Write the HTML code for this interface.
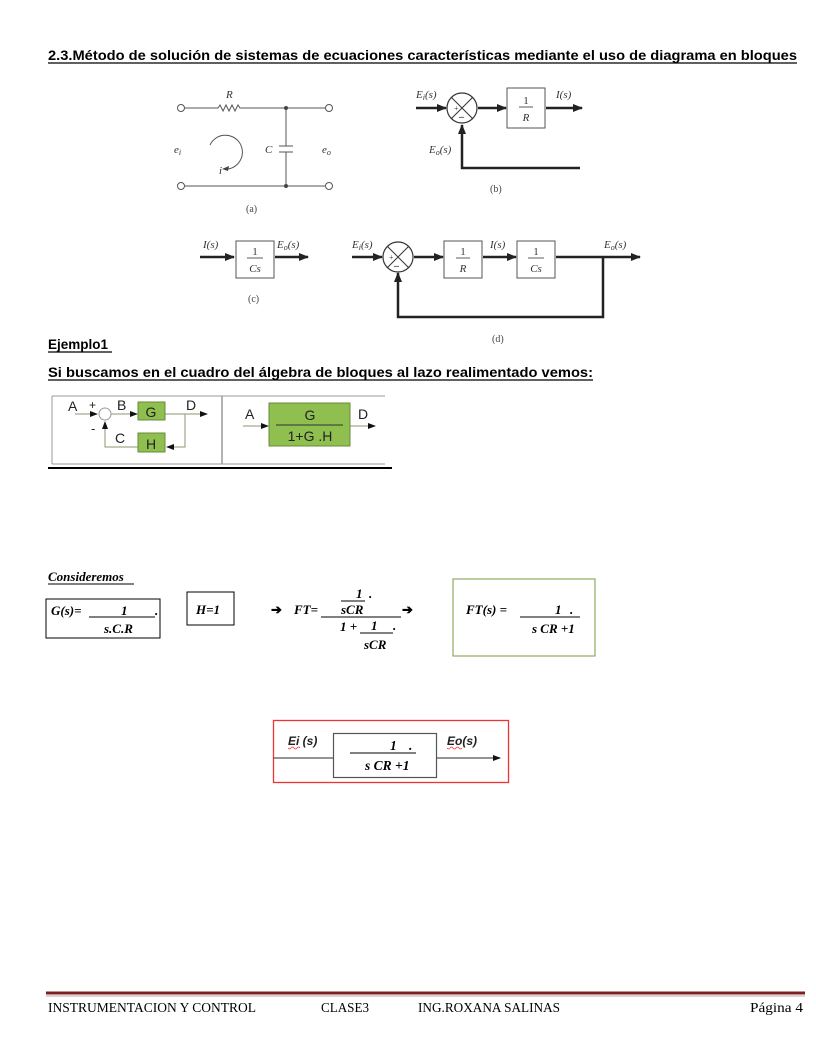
<!DOCTYPE html>
<html><head><meta charset="utf-8"><style>
html,body{margin:0;padding:0;background:#fff}
svg{display:block}
.a{font-family:"Liberation Sans",Arial,sans-serif}
.s{font-family:"Liberation Serif","Times New Roman",serif}
</style></head><body>
<svg width="816" height="1056" viewBox="0 0 816 1056" xmlns="http://www.w3.org/2000/svg">
<defs>
<marker id="ah" markerWidth="10" markerHeight="8" refX="9" refY="4" orient="auto" markerUnits="userSpaceOnUse"><path d="M0,0 L10,4 L0,8 z" fill="#222"/></marker>
<marker id="as" markerWidth="8" markerHeight="6" refX="7" refY="3" orient="auto" markerUnits="userSpaceOnUse"><path d="M0,0 L8,3 L0,6 z" fill="#111"/></marker>
</defs>
<!-- Title -->
<text class="a" x="48" y="60" font-size="13.5" font-weight="bold" textLength="749" lengthAdjust="spacingAndGlyphs">2.3.Método de solución de sistemas de ecuaciones características mediante el uso de diagrama en bloques</text>
<line x1="48" y1="63" x2="797" y2="63" stroke="#000" stroke-width="1.2"/>

<!-- (a) circuit -->
<g stroke="#555" stroke-width="1" fill="none">
<circle cx="181" cy="108" r="3.5" fill="#fff"/>
<circle cx="329" cy="108" r="3.5" fill="#fff"/>
<circle cx="181" cy="186" r="3.5" fill="#fff"/>
<circle cx="329" cy="186" r="3.5" fill="#fff"/>
<path d="M185,108 H218 l2,-3 l3,6 l3,-6 l3,6 l3,-6 l3,6 l3,-6 l2,3 H325"/>
<line x1="185" y1="186" x2="325" y2="186"/>
<line x1="286" y1="108" x2="286" y2="146"/>
<line x1="286" y1="152" x2="286" y2="186"/>
<line x1="279" y1="146" x2="293" y2="146"/>
<line x1="279" y1="152" x2="293" y2="152"/>
<path d="M210,145 A17,17 0 1 1 228,169"/>
</g>
<path d="M222,169 l7,-3 l-1,5 z" fill="#444"/>
<circle cx="286" cy="108" r="2" fill="#444"/>
<circle cx="286" cy="186" r="2" fill="#444"/>
<g class="s" font-style="italic" fill="#333" font-size="11">
<text x="226" y="98">R</text>
<text x="174" y="153">e<tspan font-size="8" dy="2">i</tspan></text>
<text x="265" y="153">C</text>
<text x="322" y="153">e<tspan font-size="8" dy="2">o</tspan></text>
<text x="219" y="174">i</text>
</g>
<text class="s" x="246" y="212" font-size="10" fill="#444">(a)</text>

<!-- (b) -->
<g stroke="#222" stroke-width="2.5" fill="none">
<line x1="416" y1="108" x2="446" y2="108" marker-end="url(#ah)"/>
<line x1="478" y1="108" x2="506" y2="108" marker-end="url(#ah)"/>
<line x1="546" y1="108" x2="582" y2="108" marker-end="url(#ah)"/>
<path d="M580,168 H462 V125" marker-end="url(#ah)"/>
</g>
<circle cx="462" cy="108" r="15" fill="#fff" stroke="#333" stroke-width="1.2"/>
<path d="M451,97 L473,119 M473,97 L451,119" stroke="#333" stroke-width="1"/>
<rect x="507" y="88" width="38" height="40" fill="#fff" stroke="#555"/>
<g class="s" fill="#333">
<text x="526" y="104" font-size="11" text-anchor="middle">1</text>
<line x1="519" y1="107" x2="533" y2="107" stroke="#333" stroke-width="0.8"/>
<text x="526" y="121" font-size="11" font-style="italic" text-anchor="middle">R</text>
<text x="454" y="111" font-size="8">+</text>
<text x="459" y="120" font-size="10" font-weight="bold">–</text>
<text x="416" y="98" font-size="11" font-style="italic">E<tspan font-size="8" dy="2">i</tspan><tspan dy="-2">(s)</tspan></text>
<text x="556" y="98" font-size="11" font-style="italic">I(s)</text>
<text x="429" y="153" font-size="11" font-style="italic">E<tspan font-size="8" dy="2">o</tspan><tspan dy="-2">(s)</tspan></text>
<text x="490" y="192" font-size="10" fill="#444">(b)</text>
</g>

<!-- (c) -->
<g stroke="#222" stroke-width="2.5" fill="none">
<line x1="200" y1="257" x2="234" y2="257" marker-end="url(#ah)"/>
<line x1="275" y1="257" x2="308" y2="257" marker-end="url(#ah)"/>
</g>
<rect x="236" y="241" width="38" height="37" fill="#fff" stroke="#555"/>
<g class="s" fill="#333">
<text x="255" y="255" font-size="11" text-anchor="middle">1</text>
<line x1="247" y1="258" x2="263" y2="258" stroke="#333" stroke-width="0.8"/>
<text x="255" y="272" font-size="11" font-style="italic" text-anchor="middle">Cs</text>
<text x="203" y="248" font-size="11" font-style="italic">I(s)</text>
<text x="277" y="248" font-size="11" font-style="italic">E<tspan font-size="8" dy="2">o</tspan><tspan dy="-2">(s)</tspan></text>
<text x="248" y="302" font-size="10" fill="#444">(c)</text>
</g>

<!-- (d) -->
<g stroke="#222" stroke-width="2.5" fill="none">
<line x1="352" y1="257" x2="382" y2="257" marker-end="url(#ah)"/>
<line x1="414" y1="257" x2="443" y2="257" marker-end="url(#ah)"/>
<line x1="483" y1="257" x2="516" y2="257" marker-end="url(#ah)"/>
<line x1="556" y1="257" x2="640" y2="257" marker-end="url(#ah)"/>
<path d="M603,257 V317 H398 V273" marker-end="url(#ah)"/>
</g>
<circle cx="398" cy="257" r="15" fill="#fff" stroke="#333" stroke-width="1.2"/>
<path d="M387,246 L409,268 M409,246 L387,268" stroke="#333" stroke-width="1"/>
<rect x="444" y="241" width="38" height="37" fill="#fff" stroke="#555"/>
<rect x="517" y="241" width="38" height="37" fill="#fff" stroke="#555"/>
<g class="s" fill="#333">
<text x="463" y="255" font-size="11" text-anchor="middle">1</text>
<line x1="456" y1="258" x2="470" y2="258" stroke="#333" stroke-width="0.8"/>
<text x="463" y="272" font-size="11" font-style="italic" text-anchor="middle">R</text>
<text x="536" y="255" font-size="11" text-anchor="middle">1</text>
<line x1="528" y1="258" x2="544" y2="258" stroke="#333" stroke-width="0.8"/>
<text x="536" y="272" font-size="11" font-style="italic" text-anchor="middle">Cs</text>
<text x="389" y="260" font-size="8">+</text>
<text x="394" y="269" font-size="10" font-weight="bold">–</text>
<text x="352" y="248" font-size="11" font-style="italic">E<tspan font-size="8" dy="2">i</tspan><tspan dy="-2">(s)</tspan></text>
<text x="490" y="248" font-size="11" font-style="italic">I(s)</text>
<text x="604" y="248" font-size="11" font-style="italic">E<tspan font-size="8" dy="2">o</tspan><tspan dy="-2">(s)</tspan></text>
<text x="492" y="342" font-size="10" fill="#444">(d)</text>
</g>

<!-- Ejemplo -->
<text class="a" x="48" y="349" font-size="13.5" font-weight="bold">Ejemplo1</text>
<line x1="48" y1="352" x2="112" y2="352" stroke="#000" stroke-width="1.2"/>
<text class="a" x="48" y="377" font-size="13.5" font-weight="bold" textLength="545" lengthAdjust="spacingAndGlyphs">Si buscamos en el cuadro del álgebra de bloques al lazo realimentado vemos:</text>
<line x1="48" y1="380" x2="593" y2="380" stroke="#000" stroke-width="1.2"/>

<!-- Block algebra -->
<g stroke="#999" stroke-width="1" fill="none">
<line x1="52" y1="396" x2="385" y2="396"/>
<line x1="52" y1="464" x2="385" y2="464"/>
<line x1="52" y1="396" x2="52" y2="464"/>
<line x1="222" y1="396" x2="222" y2="464" stroke-width="1.5"/>
</g>
<line x1="48" y1="468" x2="392" y2="468" stroke="#000" stroke-width="2"/>
<g stroke="#8a9a70" stroke-width="1" fill="none">
<line x1="75" y1="414" x2="97" y2="414" marker-end="url(#as)"/>
<line x1="111" y1="414" x2="137" y2="414" marker-end="url(#as)"/>
<line x1="165" y1="414" x2="207" y2="414" marker-end="url(#as)"/>
<path d="M185,414 V447 H167" marker-end="url(#as)"/>
<path d="M138,447 H105 V422" marker-end="url(#as)"/>
<line x1="243" y1="426" x2="268" y2="426" marker-end="url(#as)"/>
<line x1="350" y1="426" x2="375" y2="426" marker-end="url(#as)"/>
</g>
<circle cx="105" cy="414" r="6" fill="#fff" stroke="#999"/>
<rect x="138" y="402" width="27" height="18" fill="#8fbf4f" stroke="#6a8a3a"/>
<rect x="138" y="433" width="27" height="19" fill="#8fbf4f" stroke="#6a8a3a"/>
<rect x="269" y="403" width="81" height="43" fill="#8fbf4f" stroke="#6a8a3a"/>
<line x1="276" y1="425" x2="343" y2="425" stroke="#333" stroke-width="1"/>
<g class="a" fill="#222" font-size="14">
<text x="68" y="411">A</text><text x="89" y="409" font-size="12">+</text>
<text x="117" y="410">B</text><text x="186" y="410">D</text>
<text x="91" y="433" font-size="13">-</text><text x="115" y="443">C</text>
<text x="151" y="417" text-anchor="middle">G</text>
<text x="151" y="449" text-anchor="middle">H</text>
<text x="245" y="419">A</text><text x="358" y="419">D</text>
<text x="310" y="420" text-anchor="middle">G</text>
<text x="310" y="441" text-anchor="middle">1+G .H</text>
</g>

<!-- Consideremos -->
<g class="s" font-style="italic" font-weight="bold" fill="#000" font-size="13">
<text x="48" y="581">Consideremos</text>
<line x1="48" y1="584" x2="134" y2="584" stroke="#000" stroke-width="1"/>
<rect x="46" y="599" width="114" height="39" fill="none" stroke="#000" stroke-width="1"/>
<text x="51" y="615">G(s)=</text>
<text x="121" y="615">1</text>
<line x1="89" y1="617" x2="155" y2="617" stroke="#000" stroke-width="1"/>
<text x="155" y="615">.</text>
<text x="104" y="633">s.C.R</text>
<rect x="187" y="592" width="47" height="33" fill="none" stroke="#000" stroke-width="1"/>
<text x="196" y="614">H=1</text>
<text x="271" y="614" font-style="normal">➔</text>
<text x="294" y="614">FT=</text>
<text x="356" y="598">1</text><text x="369" y="598">.</text>
<line x1="341" y1="601" x2="365" y2="601" stroke="#000" stroke-width="1"/>
<text x="341" y="614">sCR</text>
<line x1="321" y1="617" x2="401" y2="617" stroke="#000" stroke-width="1"/>
<text x="402" y="614" font-style="normal">➔</text>
<text x="340" y="631">1 +</text>
<text x="371" y="630">1</text><text x="393" y="630">.</text>
<line x1="360" y1="633" x2="393" y2="633" stroke="#000" stroke-width="1"/>
<text x="364" y="649">sCR</text>
<rect x="453" y="579" width="142" height="77" fill="none" stroke="#7a9a40" stroke-width="1"/>
<text x="466" y="614">FT(s) =</text>
<text x="555" y="614">1</text><text x="570" y="614">.</text>
<line x1="520" y1="617" x2="580" y2="617" stroke="#000" stroke-width="1"/>
<text x="532" y="633">s CR  +1</text>
</g>

<!-- Red box -->
<rect x="273.5" y="720.5" width="235" height="62" fill="none" stroke="#e33" stroke-width="1.3"/>
<line x1="273" y1="758" x2="333" y2="758" stroke="#555" stroke-width="1.2"/>
<line x1="436" y1="758" x2="500" y2="758" stroke="#555" stroke-width="1.2" marker-end="url(#as)"/>
<rect x="333.5" y="733.5" width="103" height="44" fill="#fff" stroke="#555" stroke-width="1.2"/>
<g class="a" font-weight="bold" font-style="italic" font-size="12" fill="#222">
<text x="288" y="745">Ei (s)</text>
<text x="447" y="745">Eo(s)</text>
</g>
<path d="M288,748 q1.5,2 3,0 t3,0 t3,0 t3,0" stroke="#e33" fill="none" stroke-width="0.7"/>
<path d="M447,748 q1.5,2 3,0 t3,0 t3,0 t3,0 t3,0" stroke="#e33" fill="none" stroke-width="0.7"/>
<g class="s" font-weight="bold" font-style="italic" font-size="13.5" fill="#000">
<text x="390" y="750">1</text><text x="409" y="750">.</text>
<line x1="350" y1="753" x2="416" y2="753" stroke="#000" stroke-width="1"/>
<text x="365" y="770">s CR  +1</text>
</g>

<!-- Footer -->
<line x1="46" y1="993" x2="805" y2="993" stroke="#7a2020" stroke-width="3"/>
<line x1="46" y1="996" x2="805" y2="996" stroke="#b08080" stroke-width="0.8"/>
<g class="s" font-size="13.5" fill="#000">
<text x="48" y="1012" textLength="208" lengthAdjust="spacingAndGlyphs">INSTRUMENTACION Y CONTROL</text>
<text x="321" y="1012" textLength="48" lengthAdjust="spacingAndGlyphs">CLASE3</text>
<text x="418" y="1012" textLength="142" lengthAdjust="spacingAndGlyphs">ING.ROXANA SALINAS</text>
<text x="750" y="1012" textLength="53" lengthAdjust="spacingAndGlyphs">Página 4</text>
</g>
</svg>
</body></html>
